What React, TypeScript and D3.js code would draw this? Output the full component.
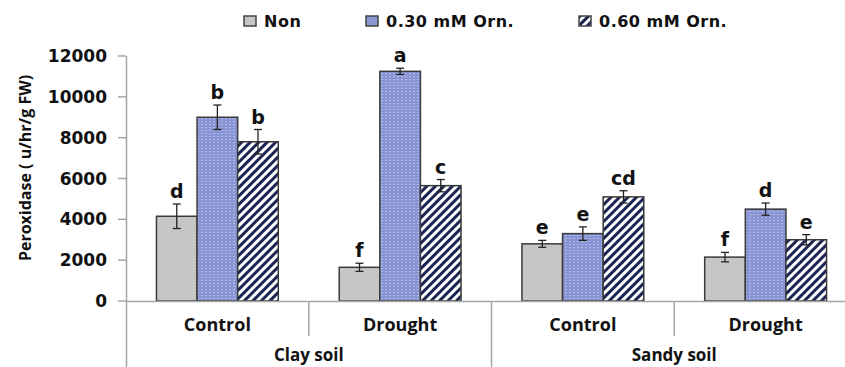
import React, { useEffect, useRef } from 'react';
import * as d3 from 'd3';

const soils = ['Clay soil', 'Sandy soil'];
const conditions = ['Control', 'Drought', 'Control', 'Drought'];
const series = ['Non', '0.30 mM Orn.', '0.60 mM Orn.'];
const nonValues = [4150, 1650, 2800, 2150];
const orn30Values = [9000, 11250, 3300, 4500];
const orn60Values = [7800, 5650, 5100, 3000];
const nonErr = [600, 200, 170, 230];
const orn30Err = [600, 150, 330, 300];
const orn60Err = [600, 300, 300, 250];
const nonLetters = ['d', 'f', 'e', 'f'];
const orn30Letters = ['b', 'a', 'e', 'd'];
const orn60Letters = ['b', 'c', 'cd', 'e'];
const yTicks = [0, 2000, 4000, 6000, 8000, 10000, 12000];

const W = 845;
const H = 367;

export default function App() {
  const ref = useRef<SVGSVGElement>(null);

  useEffect(() => {
    const svg = d3.select(ref.current);
    svg.selectAll('*').remove();

    const left = 126;
    const right = 857;
    const top = 56;
    const axis0 = 301;

    const defs = svg.append('defs');
    const dots = defs.append('pattern')
      .attr('id', 'dots')
      .attr('patternUnits', 'userSpaceOnUse')
      .attr('width', 4)
      .attr('height', 3);
    dots.append('rect').attr('width', 4).attr('height', 3).attr('fill', '#8a95d4');
    dots.append('rect').attr('x', 1).attr('y', 1).attr('width', 2).attr('height', 1).attr('fill', '#afb7e8');

    const hatch = defs.append('pattern')
      .attr('id', 'hatch')
      .attr('patternUnits', 'userSpaceOnUse')
      .attr('width', 6)
      .attr('height', 6)
      .attr('patternTransform', 'rotate(45)');
    hatch.append('rect').attr('width', 6).attr('height', 6).attr('fill', '#ffffff');
    hatch.append('line').attr('x1', 1.5).attr('x2', 1.5).attr('y1', 0).attr('y2', 6)
      .attr('stroke', '#1c2452').attr('stroke-width', 3);

    const fills = ['#c6c6c6', 'url(#dots)', 'url(#hatch)'];
    const legendFills = ['#c6c6c6', '#8a95d4', 'url(#hatch)'];

    const y = d3.scaleLinear().domain([0, 12000]).range([axis0, top]);
    const x0 = d3.scaleBand<number>().domain(d3.range(conditions.length)).range([left, right]).paddingInner(0).paddingOuter(0);
    const x1 = d3.scaleBand<number>().domain(d3.range(series.length)).range([0, x0.bandwidth()]).paddingInner(0).paddingOuter(0.75);

    const values = [nonValues, orn30Values, orn60Values];
    const errs = [nonErr, orn30Err, orn60Err];
    const letters = [nonLetters, orn30Letters, orn60Letters];

    const axisColor = '#a6a6a6';

    // y axis
    svg.append('line').attr('x1', left + 0.5).attr('x2', left + 0.5).attr('y1', top).attr('y2', H)
      .attr('stroke', axisColor).attr('stroke-width', 1.5);
    yTicks.forEach(t => {
      svg.append('line').attr('x1', left - 8).attr('x2', left).attr('y1', y(t)).attr('y2', y(t))
        .attr('stroke', axisColor).attr('stroke-width', 1.5);
      svg.append('text').attr('x', 107).attr('y', y(t)).attr('dy', '0.36em')
        .attr('text-anchor', 'end')
        .attr('font-family', 'DejaVu Sans').attr('font-weight', 'bold').attr('font-size', 17)
        .attr('fill', '#111').text(t);
    });

    // bars
    conditions.forEach((c, i) => {
      const gx = x0(i)!;
      series.forEach((s, j) => {
        const v = values[j][i];
        const bx = gx + x1(j)!;
        const bw = x1.bandwidth();
        svg.append('rect').attr('x', bx).attr('y', y(v)).attr('width', bw).attr('height', axis0 - y(v))
          .attr('fill', fills[j]).attr('stroke', '#3a3a3a').attr('stroke-width', 1.5);
        const cx = bx + bw / 2;
        const e = errs[j][i];
        svg.append('line').attr('x1', cx).attr('x2', cx).attr('y1', y(v + e)).attr('y2', y(v - e))
          .attr('stroke', '#222').attr('stroke-width', 1.3);
        [v + e, v - e].forEach(ev => {
          svg.append('line').attr('x1', cx - 4).attr('x2', cx + 4).attr('y1', y(ev)).attr('y2', y(ev))
            .attr('stroke', '#222').attr('stroke-width', 1.3);
        });
        svg.append('text').attr('x', cx).attr('y', y(v + e) - 6)
          .attr('text-anchor', 'middle')
          .attr('font-family', 'DejaVu Sans').attr('font-weight', 'bold').attr('font-size', 19)
          .attr('fill', '#111').text(letters[j][i]);
      });
    });

    // x axis
    svg.append('line').attr('x1', left).attr('x2', right).attr('y1', axis0 + 0.5).attr('y2', axis0 + 0.5)
      .attr('stroke', axisColor).attr('stroke-width', 1.5);
    conditions.forEach((c, i) => {
      const gx = x0(i)!;
      if (i > 0) {
        svg.append('line').attr('x1', gx).attr('x2', gx).attr('y1', axis0).attr('y2', i % 2 === 0 ? H : 336)
          .attr('stroke', axisColor).attr('stroke-width', 1.5);
      }
      svg.append('text').attr('x', gx + x0.bandwidth() / 2).attr('y', 331)
        .attr('text-anchor', 'middle')
        .attr('font-family', 'Open Sans').attr('font-weight', 'bold').attr('font-size', 18)
        .attr('fill', '#111').text(c);
    });
    soils.forEach((s, k) => {
      const a = x0(k * 2)!;
      const b = x0(k * 2 + 1)! + x0.bandwidth();
      svg.append('text').attr('x', (a + b) / 2).attr('y', 361)
        .attr('text-anchor', 'middle')
        .attr('font-family', 'Open Sans').attr('font-weight', 'bold').attr('font-size', 17)
        .attr('fill', '#111').text(s);
    });

    // y title
    svg.append('text').attr('transform', 'translate(31,168)rotate(-90)')
      .attr('text-anchor', 'middle')
      .attr('font-family', 'Open Sans').attr('font-weight', 'bold').attr('font-size', 16)
      .attr('fill', '#111').text('Peroxidase ( u/hr/g FW)');

    // legend
    const legendX = [244, 366, 579];
    series.forEach((s, j) => {
      svg.append('rect').attr('x', legendX[j]).attr('y', 16).attr('width', 12).attr('height', 10)
        .attr('fill', legendFills[j]).attr('stroke', '#444').attr('stroke-width', 1.5);
      svg.append('text').attr('x', legendX[j] + 20).attr('y', 21).attr('dy', '0.36em')
        .attr('font-family', 'DejaVu Sans').attr('font-weight', 'bold').attr('font-size', 16)
        .attr('letter-spacing', 0.5)
        .attr('fill', '#111').text(s);
    });
  }, []);

  return (
    <svg ref={ref} width={W} height={H}
      style={{ position: 'absolute', left: 0, top: 0, background: '#fff' }} />
  );
}
